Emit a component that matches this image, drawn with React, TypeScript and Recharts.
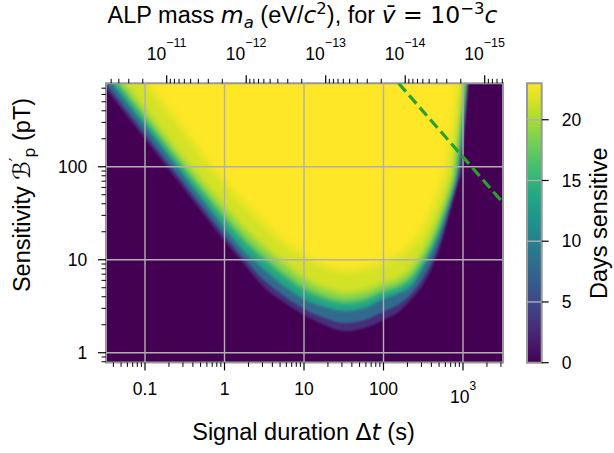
import React from 'react'
import {
  ComposedChart,
  Area,
  Line,
  XAxis,
  YAxis,
  CartesianGrid,
  ReferenceLine,
  ReferenceArea,
} from 'recharts'

const durations = [0.027, 0.1, 0.32, 1, 1.8, 3.2, 5.8, 10, 18, 33, 58, 100, 160, 230, 300, 400, 510, 650, 770, 860, 970, 1060, 1150, 1260, 1600]

// lowest sensitivity (pT) that reaches a given number of days, per duration
const level1 = [835, 199, 56, 16.0, 8.8, 4.96, 3.42, 2.54, 1.99, 1.71, 1.85, 2.25, 2.81, 3.87, 5.09, 7.94, 13.4, 27.4, 46.1, 63.5, 99.3, 281, 702, 2035, 27000]
const level5 = [949, 226, 63.5, 18.2, 9.97, 5.93, 4.01, 2.98, 2.37, 2.09, 2.25, 2.77, 3.36, 4.41, 6.02, 9.4, 15.7, 31.5, 52.4, 75.2, 146, 385, 944, 2740, 33400]
const level11 = [1151, 274, 76.5, 21.9, 12.1, 7.75, 5.09, 3.78, 3.1, 2.81, 3.02, 3.78, 4.38, 5.35, 7.75, 12.1, 19.9, 38.7, 63.5, 96.9, 261, 621, 1476, 4276, 45000]
const level16 = [1387, 330, 92.6, 28.1, 15.9, 10.2, 6.68, 4.84, 3.88, 3.47, 3.71, 4.55, 5.21, 6.6, 9.33, 14.7, 24.5, 45.5, 78.5, 149, 407, 910, 2086, 5480, 57700]
const level20 = [1671, 397, 112, 36.0, 20.9, 13.3, 8.78, 6.2, 4.84, 4.28, 4.56, 5.48, 6.2, 8.14, 11.2, 18.0, 30.3, 53.5, 96.9, 230, 635, 1336, 2951, 7020, 74000]
const level22 = [3475, 830, 232, 66.8, 38.7, 23.6, 15.1, 11.0, 8.56, 7.56, 8.0, 9.45, 11.2, 14.7, 19.9, 32.6, 56.1, 118, 281, 635, 1800, 3780, 7940, 20000, 100000]

const contours = [level1, level5, level11, level16, level20, level22]
const bandColors = ['#462e7a', '#306b8e', '#22a585', '#7ad151', '#d3e226', '#fde725']
const bandBlur = [1.2, 1.3, 1.7, 2.4, 3.4, 4.2]

// green dashed guide
const guideT = [155, 3186]
const guideB = [790, 41]

const xMajor = [0.1, 1, 10, 100, 1000]
const xMajorText = ['0.1', '1', '10', '100', '10']
const xMajorSup = ['', '', '', '', '3']
const yMajor = [1, 10, 100]
const yMajorText = ['1', '10', '100']
const massMajor = [1e-11, 1e-12, 1e-13, 1e-14, 1e-15]
const massSup = ['\u221211', '\u221212', '\u221213', '\u221214', '\u221215']
const cbTicks = [0, 5, 10, 15, 20]
const cbMax = 23

const T_DOMAIN = [0.0323, 3186]
const M_DOMAIN = [5.885e-16, 5.805e-11]
const B_DOMAIN = [0.787, 790]

const viridis = ['#440154', '#482475', '#414487', '#355f8d', '#2a788e', '#21918c', '#22a884', '#44bf70', '#7ad151', '#bddf26', '#fde725']

const minorLog = (lo: number, hi: number) => {
  const out: number[] = []
  for (let e = Math.floor(Math.log10(lo)); e <= Math.ceil(Math.log10(hi)); e++) {
    for (let k = 2; k <= 9; k++) {
      const v = k * Math.pow(10, e)
      if (v >= lo && v <= hi) out.push(v)
    }
  }
  return out
}

const xTicks = [...xMajor, ...minorLog(T_DOMAIN[0], T_DOMAIN[1])]
const yTicks = [...yMajor, ...minorLog(B_DOMAIN[0], B_DOMAIN[1])]
const mTicks = [...massMajor, ...minorLog(M_DOMAIN[0], M_DOMAIN[1])]

const rows: Record<string, number>[] = [
  ...durations.map((t, i) => {
    const r: Record<string, number> = { t }
    contours.forEach((c, k) => (r['c' + k] = c[i]))
    return r
  }),
  ...guideT.map((t, i) => ({ t, guide: guideB[i] })),
].sort((a, b) => a.t - b.t)

const cbRows = cbTicks.map((d) => ({ d }))

const FONT = '"Liberation Sans", Arial, Helvetica, sans-serif'
const MATH = '"DejaVu Sans", sans-serif'
const TICK_FS = 17.5
const LABEL_FS = 23.5
const MAJOR = 8
const MINOR = 4.5
const SPINE = '#999999'
const GRID = '#b0b0b0'

function BottomTick({ x, y, payload }: any) {
  const i = xMajor.indexOf(payload.value)
  if (i < 0) return <line x1={x} x2={x} y1={y} y2={y + MINOR} stroke="#000" strokeWidth={1} />
  const sup = xMajorSup[i]
  return (
    <g>
      <line x1={x} x2={x} y1={y} y2={y + MAJOR} stroke="#000" strokeWidth={1.2} />
      <text x={x} y={y + (sup ? 41 : 32.6)} textAnchor="middle" fontSize={TICK_FS} fontFamily={FONT} fill="#000">
        {xMajorText[i]}
        {sup ? <tspan dy={-13.3} fontSize={12}>{sup}</tspan> : null}
      </text>
    </g>
  )
}

function TopTick({ x, y, payload }: any) {
  const i = massMajor.indexOf(payload.value)
  if (i < 0) return <line x1={x} x2={x} y1={y} y2={y - MINOR} stroke="#000" strokeWidth={1} />
  return (
    <g>
      <line x1={x} x2={x} y1={y} y2={y - MAJOR} stroke="#000" strokeWidth={1.2} />
      <text x={x} y={y - 23.8} textAnchor="middle" fontSize={TICK_FS} fontFamily={FONT} fill="#000">
        10
        <tspan dy={-12.7} fontSize={12.5}>{massSup[i]}</tspan>
      </text>
    </g>
  )
}

function LeftTick({ x, y, payload }: any) {
  const i = yMajor.indexOf(payload.value)
  if (i < 0) return <line x1={x - MINOR} x2={x} y1={y} y2={y} stroke="#000" strokeWidth={1} />
  return (
    <g>
      <line x1={x - MAJOR} x2={x} y1={y} y2={y} stroke="#000" strokeWidth={1.2} />
      <text x={x - 18.7} y={y + 6.2} textAnchor="end" fontSize={TICK_FS} fontFamily={FONT} fill="#000">
        {yMajorText[i]}
      </text>
    </g>
  )
}

function CbTick({ x, y, payload }: any) {
  return (
    <g>
      <line x1={x} x2={x + 7} y1={y} y2={y} stroke="#000" strokeWidth={1.2} />
      <text x={x + 20} y={y + 6.2} textAnchor="start" fontSize={TICK_FS} fontFamily={FONT} fill="#000">
        {payload.value}
      </text>
    </g>
  )
}

function Title() {
  return (
    <text x={302.5} y={23} textAnchor="middle" fontSize={LABEL_FS} fontFamily={FONT} fill="#000">
      {'ALP mass '}
      <tspan fontFamily={MATH} fontStyle="italic">m</tspan>
      <tspan fontFamily={MATH} fontSize={16.5} dy={5} fontStyle="italic">a</tspan>
      <tspan dy={-5}>{' (eV/'}</tspan>
      <tspan fontFamily={MATH} fontStyle="italic">c</tspan>
      <tspan fontFamily={MATH} fontSize={16.5} dy={-9.5}>2</tspan>
      <tspan dy={9.5}>{'), for '}</tspan>
      <tspan fontFamily={MATH} fontStyle="italic">{'v\u0304'}</tspan>
      <tspan fontFamily={MATH}>{' = 10'}</tspan>
      <tspan fontFamily={MATH} fontSize={16.5} dy={-9.5}>{'\u22123'}</tspan>
      <tspan fontFamily={MATH} fontStyle="italic" dy={9.5}>c</tspan>
    </text>
  )
}

function XLabel() {
  return (
    <text x={303.5} y={440} textAnchor="middle" fontSize={LABEL_FS} fontFamily={FONT} fill="#000">
      {'Signal duration '}
      <tspan fontFamily={MATH}>{'\u0394'}</tspan>
      <tspan fontFamily={MATH} fontStyle="italic">t</tspan>
      {' (s)'}
    </text>
  )
}

function YLabel() {
  return (
    <text x={30} y={195} transform="rotate(-90, 30, 195)" textAnchor="middle" fontSize={LABEL_FS} fontFamily={FONT} fill="#000">
      {'Sensitivity '}
      <tspan fontFamily={MATH}>{'\u212C'}</tspan>
      <tspan fontFamily={MATH} fontSize={16} dy={-9}>{'\u2032'}</tspan>
      <tspan fontFamily={MATH} fontSize={16} dy={14}>p</tspan>
      <tspan dy={-5}>{' (pT)'}</tspan>
    </text>
  )
}

function CbLabel() {
  return (
    <text x={607} y={223.3} transform="rotate(-90, 607, 223.3)" textAnchor="middle" fontSize={LABEL_FS} fontFamily={FONT} fill="#000">
      Days sensitive
    </text>
  )
}

export default function App() {
  return (
    <div style={{ position: 'absolute', left: 0, top: 0, width: 614, height: 453, background: '#fff' }}>
      <ComposedChart width={614} height={453} data={rows} margin={{ top: 0, right: 111, bottom: 0, left: 0 }}>
        <defs>
          {bandBlur.map((s, k) => (
            <filter key={k} id={'heatBlur' + k} x="-5%" y="-5%" width="110%" height="110%">
              <feGaussianBlur stdDeviation={s} />
            </filter>
          ))}
        </defs>
        <CartesianGrid xAxisId="bottom" yAxisId="left" horizontal={false} vertical={false} fill="#440154" fillOpacity={1} />
        <XAxis
          xAxisId="bottom"
          dataKey="t"
          type="number"
          scale="log"
          domain={T_DOMAIN}
          allowDataOverflow
          ticks={xTicks}
          interval={0}
          tick={<BottomTick />}
          tickSize={0}
          tickMargin={0}
          tickLine={false}
          axisLine={false}
          height={90.6}
          label={<XLabel />}
        />
        <XAxis
          xAxisId="top"
          dataKey="mass"
          orientation="top"
          type="number"
          scale="log"
          domain={M_DOMAIN}
          reversed
          allowDataOverflow
          ticks={mTicks}
          interval={0}
          tick={<TopTick />}
          tickSize={0}
          tickMargin={0}
          tickLine={false}
          axisLine={false}
          height={83.3}
          label={<Title />}
        />
        <YAxis
          yAxisId="left"
          type="number"
          scale="log"
          domain={B_DOMAIN}
          allowDataOverflow
          ticks={yTicks}
          interval={0}
          tick={<LeftTick />}
          tickSize={0}
          tickMargin={0}
          tickLine={false}
          axisLine={false}
          width={106}
          label={<YLabel />}
        />
        {contours.map((_, k) => (
          <Area
            key={k}
            xAxisId="bottom"
            yAxisId="left"
            dataKey={'c' + k}
            type="monotone"
            baseValue={1e6}
            stroke="none"
            fill={bandColors[k]}
            fillOpacity={1}
            connectNulls
            filter={`url(#heatBlur${k})`}
            isAnimationActive={false}
          />
        ))}
        {xMajor.map((v) => (
          <ReferenceLine key={'gx' + v} xAxisId="bottom" yAxisId="left" x={v} stroke={GRID} strokeWidth={1.4} />
        ))}
        {yMajor.map((v) => (
          <ReferenceLine key={'gy' + v} xAxisId="bottom" yAxisId="left" y={v} stroke={GRID} strokeWidth={1.4} />
        ))}
        <Line
          xAxisId="bottom"
          yAxisId="left"
          dataKey="guide"
          type="linear"
          stroke="#2ca02c"
          strokeWidth={3.2}
          strokeDasharray="11 5"
          dot={false}
          activeDot={false}
          connectNulls
          isAnimationActive={false}
        />
        <ReferenceArea
          xAxisId="bottom"
          yAxisId="left"
          x1={T_DOMAIN[0]}
          x2={T_DOMAIN[1]}
          y1={B_DOMAIN[0]}
          y2={B_DOMAIN[1]}
          fill="none"
          fillOpacity={0}
          stroke={SPINE}
          strokeWidth={2}
          ifOverflow="visible"
        />
      </ComposedChart>
      <div style={{ position: 'absolute', left: 0, top: 0 }}>
        <ComposedChart width={614} height={453} data={cbRows} margin={{ top: 83.3, right: 0, bottom: 90.3, left: 527 }}>
          <defs>
            <linearGradient id="viridisBar" x1="0" y1="1" x2="0" y2="0">
              {viridis.map((c, i) => (
                <stop key={i} offset={i / (viridis.length - 1)} stopColor={c} />
              ))}
            </linearGradient>
          </defs>
          <XAxis xAxisId="cb" dataKey="d" type="number" domain={[0, 1]} allowDataOverflow hide height={0} />
          <YAxis
            yAxisId="cb"
            orientation="right"
            type="number"
            domain={[0, cbMax]}
            allowDataOverflow
            ticks={cbTicks}
            interval={0}
            tick={<CbTick />}
            tickSize={0}
            tickMargin={0}
            tickLine={false}
            axisLine={false}
            width={72.3}
            label={<CbLabel />}
          />
          <ReferenceArea xAxisId="cb" yAxisId="cb" x1={0} x2={1} y1={0} y2={cbMax} fill="url(#viridisBar)" fillOpacity={1} stroke="none" ifOverflow="visible" />
          {cbTicks.slice(1).map((v) => (
            <ReferenceLine key={'cb' + v} xAxisId="cb" yAxisId="cb" y={v} stroke={GRID} strokeWidth={1.4} />
          ))}
          <ReferenceArea xAxisId="cb" yAxisId="cb" x1={0} x2={1} y1={0} y2={cbMax} fill="none" fillOpacity={0} stroke={SPINE} strokeWidth={2} ifOverflow="visible" />
        </ComposedChart>
      </div>
    </div>
  )
}
